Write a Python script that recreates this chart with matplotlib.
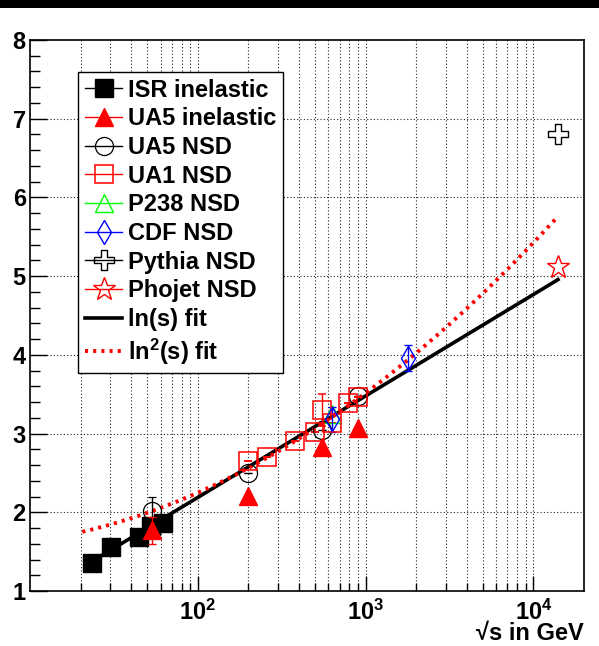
import numpy as np
import matplotlib
matplotlib.use("Agg")
import matplotlib.pyplot as plt
from matplotlib.path import Path
from matplotlib.lines import Line2D
from matplotlib.patches import Rectangle

plt.rcParams['font.family'] = ['Liberation Sans', 'DejaVu Sans']
plt.rcParams['font.weight'] = 'bold'
plt.rcParams['mathtext.fontset'] = 'custom'
plt.rcParams['mathtext.rm'] = 'Liberation Sans:bold'
plt.rcParams['mathtext.bf'] = 'Liberation Sans:bold'
plt.rcParams['mathtext.default'] = 'rm'

# ---- measurements: dN/deta at eta=0 vs sqrt(s) [GeV] ----
isr_x = [23.3, 30.4, 44.5, 52.6, 62.2]
isr_y = [1.36, 1.56, 1.68, 1.82, 1.87]

ua5_inel_x = [53, 200, 546, 900]
ua5_inel_y = [1.77, 2.21, 2.83, 3.07]
ua5_inel_e = [0.17, 0.0, 0.0, 0.0]

ua5_nsd_x = [53, 200, 546, 900]
ua5_nsd_y = [2.02, 2.50, 3.05, 3.48]
ua5_nsd_e = [0.17, 0.0, 0.0, 0.0]

ua1_x = [200, 260, 380, 500, 546, 630, 790, 900]
ua1_y = [2.65, 2.70, 2.91, 3.02, 3.30, 3.13, 3.39, 3.46]
ua1_e = [0.0, 0.0, 0.0, 0.0, 0.20, 0.0, 0.0, 0.0]

p238_x = [630]
p238_y = [3.25]

cdf_x = [630, 1800]
cdf_y = [3.18, 3.96]
cdf_e = [0.16, 0.16]

pythia_x = [14000]
pythia_y = [6.81]

phojet_x = [14000]
phojet_y = [5.11]

# fit parameters in u = ln(s)
lin_a, lin_b = -0.39, 0.28
lin_range = (22, 14000)
quad_a, quad_b, quad_c = 1.65, -0.075, 0.0152
quad_range = (20.5, 14000)

x_ticks = [100, 1000, 10000]
x_tick_labels = [r'$10^{2}$', r'$10^{3}$', r'$10^{4}$']
y_ticks = [1, 2, 3, 4, 5, 6, 7, 8]

RED = '#ff0000'
GREEN = '#00ff00'
BLUE = '#0000ff'

# open cross marker (outline of a plus sign)
w = 0.36
cross_verts = [(-w, 1), (w, 1), (w, w), (1, w), (1, -w), (w, -w), (w, -1),
               (-w, -1), (-w, -w), (-1, -w), (-1, w), (-w, w), (-w, 1)]
open_cross = Path(cross_verts, closed=True)

fig = plt.figure(figsize=(5.99, 6.46), dpi=100)
ax = fig.add_axes([30/599, 55/646, 554/599, 551/646])
fig.patches.append(Rectangle((0, (646-8)/646), 1, 8/646, transform=fig.transFigure,
                             facecolor='black', edgecolor='none'))

ax.set_xscale('log')

# grid
grid_kw = dict(color='0.15', lw=0.8, ls=(0, (1, 2)), zorder=0)
for dec in [10, 100, 1000]:
    for k in range(2, 11):
        ax.axvline(dec * k, **grid_kw)
for yv in y_ticks[1:-1]:
    ax.axhline(yv, **grid_kw)

# fits
s_lin = np.logspace(np.log10(lin_range[0]), np.log10(lin_range[1]), 300)
u_lin = np.log(s_lin ** 2)
ax.plot(s_lin, lin_a + lin_b * u_lin, color='black', lw=2.6, zorder=3)
s_quad = np.logspace(np.log10(quad_range[0]), np.log10(quad_range[1]), 300)
u_quad = np.log(s_quad ** 2)
ax.plot(s_quad, quad_a + quad_b * u_quad + quad_c * u_quad ** 2, color=RED, lw=2.8,
        ls=(0, (0.8, 1.3)), zorder=3)

ms = 13
ax.plot(isr_x, isr_y, 's', color='black', ms=ms, zorder=4)
ax.errorbar(ua5_inel_x, ua5_inel_y, yerr=ua5_inel_e, fmt='^', color=RED, ms=ms,
            capsize=3, elinewidth=1, zorder=5)
ax.errorbar(ua5_nsd_x, ua5_nsd_y, yerr=ua5_nsd_e, fmt='o', mfc='none', mec='black',
            ecolor='black', ms=ms, mew=0.9, capsize=3, elinewidth=1, zorder=4)
ax.errorbar(ua1_x, ua1_y, yerr=ua1_e, fmt='s', mfc='none', mec=RED, ecolor=RED,
            ms=ms, mew=1.1, capsize=3, elinewidth=1, zorder=4)
ax.plot(p238_x, p238_y, '^', mfc='none', mec=GREEN, ms=ms, mew=1.0, zorder=4)
ax.errorbar(cdf_x, cdf_y, yerr=cdf_e, fmt='d', mfc='none', mec=BLUE, ecolor=BLUE,
            ms=12, mew=1.0, capsize=3, elinewidth=1, zorder=4)
ax.plot(pythia_x, pythia_y, marker=open_cross, ls='none', mfc='none', mec='black',
        ms=14, mew=1.0, zorder=4)
ax.plot(phojet_x, phojet_y, '*', mfc='none', mec=RED, ms=17, mew=1.0, zorder=4)

# axes styling
for sp in ax.spines.values():
    sp.set_linewidth(1.2)
ax.set_xticks(x_ticks)
ax.set_xticklabels(x_tick_labels)
minor = [dec * k for dec in [10, 100, 1000] for k in range(2, 10)]
ax.set_xticks(minor, minor=True)
ax.set_xticklabels([], minor=True)
ax.set_yticks(y_ticks)
ax.set_yticks(np.arange(1.2, 8.0, 0.2), minor=True)
ax.set_xlim(10, 20000)
ax.set_ylim(1, 8)
ax.tick_params(axis='both', which='both', direction='in', top=False, right=False)
ax.tick_params(axis='x', which='major', length=11, width=1, labelsize=17, pad=6)
ax.tick_params(axis='x', which='minor', length=6, width=1)
ax.tick_params(axis='y', which='major', length=12, width=1, labelsize=17, pad=3)
ax.tick_params(axis='y', which='minor', length=7, width=1)
for lab in ax.get_yticklabels():
    lab.set_fontweight('bold')

# axis title at the right end of the x axis
ax.annotate('√s in GeV', xy=(1.0, 646 - 640), xycoords=('axes fraction', 'figure pixels'),
            ha='right', va='baseline', fontsize=17, fontweight='bold')

handles = [
    Line2D([], [], color='black', marker='s', ms=ms, lw=1),
    Line2D([], [], color=RED, marker='^', ms=ms, lw=1),
    Line2D([], [], color='black', marker='o', mfc='none', ms=ms, lw=1, mew=0.9),
    Line2D([], [], color=RED, marker='s', mfc='none', ms=ms, lw=1, mew=1.1),
    Line2D([], [], color=GREEN, marker='^', mfc='none', ms=ms, lw=1),
    Line2D([], [], color=BLUE, marker='d', mfc='none', ms=12, lw=1),
    Line2D([], [], color='black', marker=open_cross, mfc='none', ms=14, lw=1),
    Line2D([], [], color=RED, marker='*', mfc='none', ms=17, lw=1),
    Line2D([], [], color='black', lw=2.6),
    Line2D([], [], color=RED, lw=2.8, ls=(0, (0.8, 1.3))),
]
labels = ['ISR inelastic', 'UA5 inelastic', 'UA5 NSD', 'UA1 NSD', 'P238 NSD',
          'CDF NSD', 'Pythia NSD', 'Phojet NSD', 'ln(s) fit', r'ln$^{2}$(s) fit']
leg = ax.legend(handles, labels, loc='upper left',
                bbox_to_anchor=((78-30)/554, (591-72)/551),
                borderaxespad=0, fancybox=False, framealpha=1, edgecolor='black',
                prop=dict(size=17, weight='bold'), handlelength=1.6,
                handletextpad=0.22, borderpad=0.28, labelspacing=0.24)
leg.get_frame().set_linewidth(1.0)

fig.savefig('out.png', dpi=100)
